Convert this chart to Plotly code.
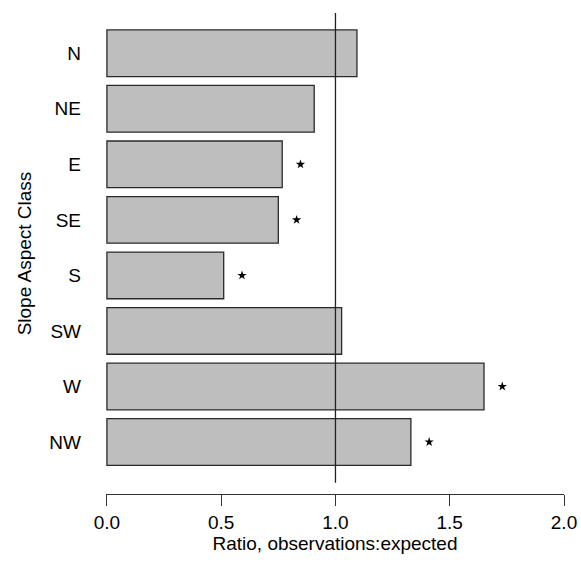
import plotly.graph_objects as go

aspects = ["N", "NE", "E", "SE", "S", "SW", "W", "NW"]
ratios = [1.094, 0.907, 0.767, 0.750, 0.511, 1.027, 1.650, 1.330]
significant = [False, False, True, True, True, False, True, True]
x_ticks = [0.0, 0.5, 1.0, 1.5, 2.0]
x_tick_labels = ["0.0", "0.5", "1.0", "1.5", "2.0"]

FONT = "Liberation Sans, Arial, sans-serif"
star_offset = 0.08

fig = go.Figure()
fig.add_trace(go.Bar(
    y=aspects, x=ratios, orientation="h",
    marker=dict(color="#BEBEBE", line=dict(color="#2a2a2a", width=1.3)),
    hoverinfo="x+y", showlegend=False,
))
star_y = [a for a, s in zip(aspects, significant) if s]
star_x = [r + star_offset for r, s in zip(ratios, significant) if s]
fig.add_trace(go.Scatter(
    y=star_y, x=star_x, mode="markers",
    marker=dict(symbol="star", size=7, color="black", line=dict(width=0)),
    showlegend=False, hoverinfo="skip",
))
# reference line at ratio 1
fig.add_shape(type="line", x0=1, x1=1, y0=-0.725, y1=7.732, xref="x", yref="y",
              line=dict(color="#222", width=1.3), layer="above")

fig.update_layout(
    width=581, height=575,
    margin=dict(l=106, r=17, t=13, b=81, autoexpand=False),
    plot_bgcolor="white", paper_bgcolor="white",
    bargap=0.16,
    font=dict(family=FONT, size=19, color="black"),
    xaxis=dict(
        range=[-0.004, 2.0], tickvals=x_ticks, ticktext=x_tick_labels,
        automargin=False,
        showline=True, linecolor="#333", linewidth=1.3,
        ticks="outside", ticklen=11, tickwidth=1.3, tickcolor="#333",
        showgrid=False, zeroline=False,
        title=dict(text="Ratio, observations:expected", standoff=4,
                   font=dict(size=19)),
        tickfont=dict(size=19),
    ),
    yaxis=dict(
        type="category", categoryorder="array", categoryarray=aspects,
        range=[7.936, -0.725], automargin=False,
        showline=False, showgrid=False, zeroline=False, ticks="",
        ticklabelstandoff=24,
        tickfont=dict(size=19),
        title=dict(text="Slope Aspect Class", standoff=12, font=dict(size=19)),
    ),
)

fig.write_html(
    "out.html",
    config={"displayModeBar": False},
    post_script="document.body.style.margin='0';document.body.style.overflow='hidden';",
)
